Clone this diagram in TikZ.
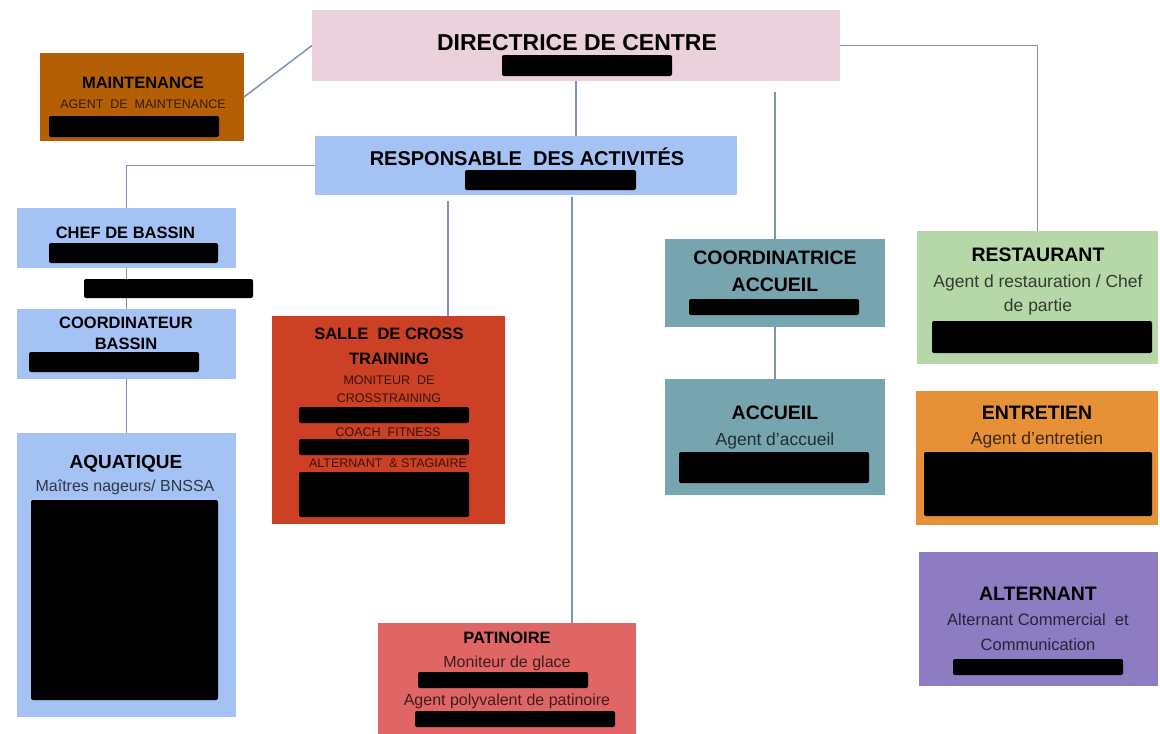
\documentclass[tikz,border=0pt]{standalone}
\usepackage{fontspec}
\setmainfont{Liberation Sans}
\definecolor{cDir}{HTML}{EAD1DC}
\definecolor{cBlue}{HTML}{A4C2F4}
\definecolor{cMaint}{HTML}{B45F06}
\definecolor{cCross}{HTML}{CC4125}
\definecolor{cPat}{HTML}{E06666}
\definecolor{cCyan}{HTML}{76A5AF}
\definecolor{cRest}{HTML}{B6D7A8}
\definecolor{cEntr}{HTML}{E69138}
\definecolor{cAlt}{HTML}{8E7CC3}
\definecolor{cLine}{HTML}{7F93B5}
\begin{document}
\begin{tikzpicture}[x=1pt,y=-1pt,
  box/.style={draw=none, inner sep=0, outer sep=0},
  hd/.style={anchor=base, inner sep=0, text=black},
  sub/.style={anchor=base, inner sep=0, text=black, text opacity=0.72},
  link/.style={draw=cLine, line width=1.5pt},
  bar/.style={fill=black, rounded corners=2pt}]
\useasboundingbox (0,0) rectangle (1160,734);
\fill[white] (0,0) rectangle (1160,734);

% ---- boxes
\node[box, fill=cDir,  minimum width=528, minimum height=71]  (dir)   at (576,45.5) {};
\node[box, fill=cMaint,minimum width=204, minimum height=88]  (maint) at (142,97) {};
\node[box, fill=cBlue, minimum width=422, minimum height=59]  (resp)  at (526,165.5) {};
\node[box, fill=cBlue, minimum width=219, minimum height=60]  (chef)  at (126.5,238) {};
\node[box, fill=cBlue, minimum width=219, minimum height=70]  (coordb) at (126.5,344) {};
\node[box, fill=cBlue, minimum width=219, minimum height=284] (aqua)  at (126.5,575) {};
\node[box, fill=cCross,minimum width=233, minimum height=208] (cross) at (388.5,420) {};
\node[box, fill=cPat,  minimum width=258, minimum height=111] (pat)   at (507,678.5) {};
\node[box, fill=cCyan, minimum width=220, minimum height=88]  (coordacc) at (775,283) {};
\node[box, fill=cCyan, minimum width=220, minimum height=116] (acc)   at (775,437) {};
\node[box, fill=cRest, minimum width=241, minimum height=133] (rest)  at (1037.5,297.5) {};
\node[box, fill=cEntr, minimum width=242, minimum height=134] (entr)  at (1037,458) {};
\node[box, fill=cAlt,  minimum width=239, minimum height=134] (alt)   at (1038.5,619) {};

% ---- connectors
\coordinate (cafree) at (775,92);
\coordinate (crfree) at (448,201);
\coordinate (ptfree) at (572,197);
\draw[link] (maint.east) -- (dir.west);
\draw[link] (dir.south) -- (dir.south |- resp.north);
\draw[link] (dir.east) -| (rest.north);
\draw[link] (cafree) -- (coordacc.north);
\draw[link] (coordacc.south) -- (acc.north);
\draw[link] (resp.west) -| (chef.north);
\draw[link] (chef.south) -- (coordb.north);
\draw[link] (coordb.south) -- (aqua.north);
\draw[link] (crfree) -- (crfree |- cross.north);
\draw[link] (ptfree) -- (ptfree |- pat.north);

% ---- redaction bars
\fill[bar] (502,55) rectangle (672,76);
\fill[bar] (49,116) rectangle (219,137);
\fill[bar] (465,170) rectangle (636,190);
\fill[bar] (49,243) rectangle (218,263);
\fill[bar] (84,279) rectangle (253,298);
\fill[bar] (29,352) rectangle (199,372);
\fill[bar] (31,500) rectangle (218,700);
\fill[bar] (299,407) rectangle (469,423);
\fill[bar] (299,439) rectangle (469,455);
\fill[bar] (299,472) rectangle (469,517);
\fill[bar] (418,672) rectangle (588,688);
\fill[bar] (415,711) rectangle (615,727);
\fill[bar] (689,299) rectangle (859,315);
\fill[bar] (679,452) rectangle (869,483);
\fill[bar] (932,321) rectangle (1152,353);
\fill[bar] (924,452) rectangle (1152,516);
\fill[bar] (953,659) rectangle (1123,675);

% ---- texts
\node[hd, font=\bfseries\fontsize{23}{27}\selectfont] (tdir) at (577,50.2) {DIRECTRICE DE CENTRE};
\node[hd, font=\bfseries\fontsize{16.5}{20}\selectfont] (tmaint) at (143,88.9) {MAINTENANCE};
\node[sub, font=\fontsize{12.5}{15}\selectfont] (smaint) at (143,108.5) {AGENT\ \ DE\ \ MAINTENANCE};
\node[hd, font=\bfseries\fontsize{20}{24}\selectfont] (tresp) at (527,165.2) {RESPONSABLE\ \ DES ACTIVITÉS};
\node[hd, font=\bfseries\fontsize{16.5}{20}\selectfont] (tchef) at (125.5,238.9) {CHEF DE BASSIN};
\node[hd, font=\bfseries\fontsize{16.5}{20}\selectfont] (tcb1) at (126,328.9) {COORDINATEUR};
\node[hd, font=\bfseries\fontsize{16.5}{20}\selectfont] (tcb2) at (126,349.9) {BASSIN};
\node[hd, font=\bfseries\fontsize{19}{23}\selectfont] (taqua) at (126,468.8) {AQUATIQUE};
\node[sub, font=\fontsize{16}{19}\selectfont] (saqua) at (125,491.7) {Maîtres nageurs/ BNSSA};
\node[hd, font=\bfseries\fontsize{16.5}{20}\selectfont] (tcr1) at (389,339.9) {SALLE\ \ DE CROSS};
\node[hd, font=\bfseries\fontsize{16.5}{20}\selectfont] (tcr2) at (389,364.9) {TRAINING};
\node[sub, font=\fontsize{12.5}{15}\selectfont] (scr1) at (389,384.5) {MONITEUR\ \ DE};
\node[sub, font=\fontsize{12.5}{15}\selectfont] (scr2) at (389,402.5) {CROSSTRAINING};
\node[sub, font=\fontsize{12.5}{15}\selectfont] (scr3) at (388,436.5) {COACH\ \ FITNESS};
\node[sub, font=\fontsize{12.5}{15}\selectfont] (scr4) at (388,467.5) {ALTERNANT\ \ \& STAGIAIRE};
\node[hd, font=\bfseries\fontsize{16.5}{20}\selectfont] (tpat) at (507,643.9) {PATINOIRE};
\node[sub, font=\fontsize{16}{19}\selectfont] (spat1) at (507,667.7) {Moniteur de glace};
\node[sub, font=\fontsize{16}{19}\selectfont] (spat2) at (507,705.7) {Agent polyvalent de patinoire};
\node[hd, font=\bfseries\fontsize{19.5}{23}\selectfont] (tca1) at (775,264) {COORDINATRICE};
\node[hd, font=\bfseries\fontsize{19.5}{23}\selectfont] (tca2) at (775,291) {ACCUEIL};
\node[hd, font=\bfseries\fontsize{19.5}{23}\selectfont] (tacc) at (775,419) {ACCUEIL};
\node[sub, font=\fontsize{17.5}{21}\selectfont] (sacc) at (775,445.3) {Agent d’accueil};
\node[hd, font=\bfseries\fontsize{19.5}{23}\selectfont] (trest) at (1038,261) {RESTAURANT};
\node[sub, font=\fontsize{17.5}{21}\selectfont] (srest1) at (1038,287.3) {Agent d restauration / Chef};
\node[sub, font=\fontsize{17.5}{21}\selectfont] (srest2) at (1038,311.3) {de partie};
\node[hd, font=\bfseries\fontsize{19.5}{23}\selectfont] (tentr) at (1037,419) {ENTRETIEN};
\node[sub, font=\fontsize{17.5}{21}\selectfont] (sentr) at (1037,444.3) {Agent d’entretien};
\node[hd, font=\bfseries\fontsize{19.5}{23}\selectfont] (talt) at (1038,600) {ALTERNANT};
\node[sub, font=\fontsize{16.5}{20}\selectfont] (salt1) at (1038,625.9) {Alternant Commercial\ \ et};
\node[sub, font=\fontsize{16.5}{20}\selectfont] (salt2) at (1038,650.9) {Communication};
\end{tikzpicture}
\end{document}
